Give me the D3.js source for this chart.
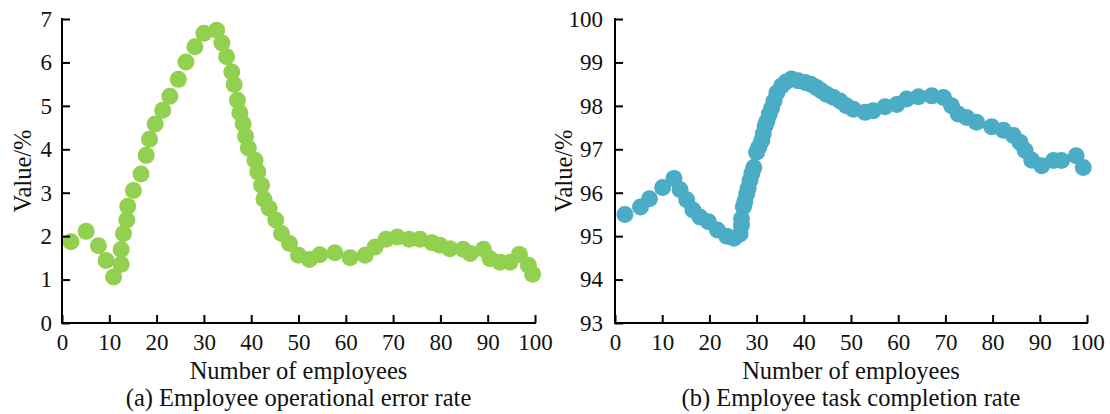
<!DOCTYPE html>
<html>
<head>
<meta charset="utf-8">
<script src="https://cdn.jsdelivr.net/npm/d3@7"></script>
<style>
  html, body { margin: 0; padding: 0; background: #fff; }
  svg { display: block; }
</style>
</head>
<body>
<svg id="chart" width="1110" height="414"></svg>
<script>
// Panel (a): employee operational error rate (%)
const errorX = [1.9, 5.1, 7.7, 9.3, 10.9, 12.5, 12.5, 13.0, 13.7, 13.9, 15.1, 16.7, 17.8, 18.5, 19.7,
  21.3, 22.8, 24.6, 26.2, 28.1, 30.0, 32.7, 33.8, 34.8, 35.9, 36.4, 37.1, 37.6, 38.3, 38.8, 39.4,
  40.8, 41.4, 42.2, 42.7, 43.8, 45.2, 46.4, 48.1, 50.0, 52.3, 54.5, 57.7, 60.9, 64.1, 66.2, 68.5,
  70.9, 73.4, 75.7, 78.2, 79.9, 82.0, 84.8, 86.3, 89.1, 90.5, 92.6, 94.7, 96.7, 98.6, 99.5];
const errorValues = [1.87, 2.11, 1.78, 1.44, 1.06, 1.35, 1.69, 2.06, 2.37, 2.69, 3.05, 3.43, 3.86, 4.23, 4.58,
  4.90, 5.22, 5.61, 6.01, 6.36, 6.67, 6.74, 6.45, 6.13, 5.78, 5.49, 5.13, 4.84, 4.59, 4.30, 4.03,
  3.75, 3.48, 3.17, 2.85, 2.64, 2.37, 2.06, 1.83, 1.56, 1.46, 1.57, 1.62, 1.50, 1.56, 1.75, 1.93,
  1.98, 1.93, 1.93, 1.85, 1.79, 1.71, 1.70, 1.60, 1.70, 1.48, 1.40, 1.40, 1.58, 1.33, 1.12];
const errorTicks = [0, 1, 2, 3, 4, 5, 6, 7];

// Panel (b): employee task completion rate (%)
const completionX = [2.1, 5.4, 7.3, 10.1, 12.5, 13.8, 15.2, 16.5, 18.0, 19.8, 21.7, 23.7, 25.2,
  26.5, 26.8, 26.8, 27.2, 27.5, 27.9, 28.2, 28.6, 29.0, 29.4, 30.0, 30.5, 31.1, 31.4, 31.8, 32.2,
  32.7, 33.2, 33.7, 34.3, 35.3, 36.2, 37.4, 38.8, 40.3, 41.5, 42.7, 43.7, 44.8, 46.2, 47.7, 49.0,
  50.5, 53.0, 54.7, 57.2, 59.7, 61.8, 64.3, 67.1, 69.6, 71.3, 72.7, 74.5, 76.6, 79.8, 82.3, 84.4,
  85.8, 86.9, 88.3, 90.4, 92.9, 94.6, 97.7, 99.2];
const completionValues = [95.50, 95.67, 95.86, 96.12, 96.33, 96.07, 95.84, 95.60, 95.44, 95.33, 95.14, 95.00, 94.95,
  95.05, 95.25, 95.40, 95.67, 95.80, 95.97, 96.10, 96.28, 96.45, 96.58, 96.93, 97.05, 97.20, 97.35, 97.54, 97.65,
  97.81, 97.95, 98.11, 98.30, 98.46, 98.55, 98.62, 98.58, 98.54, 98.50, 98.42, 98.35, 98.27, 98.20, 98.11, 98.00,
  97.92, 97.85, 97.89, 97.98, 98.03, 98.16, 98.21, 98.23, 98.19, 98.00, 97.81, 97.73, 97.62, 97.52, 97.44, 97.32,
  97.16, 96.97, 96.75, 96.62, 96.74, 96.74, 96.85, 96.58];
const completionTicks = [93, 94, 95, 96, 97, 98, 99, 100];

const xTicks = [0, 10, 20, 30, 40, 50, 60, 70, 80, 90, 100];

const FONT = '"Liberation Serif", "Times New Roman", serif';
const svg = d3.select("#chart");

const panels = [
  {
    xs: errorX, ys: errorValues, yTicks: errorTicks, domain: [0, 7],
    left: 62, right: 535, color: "#92D050", labelPad: 10, yTitleX: 31,
    caption: "(a) Employee operational error rate"
  },
  {
    xs: completionX, ys: completionValues, yTicks: completionTicks, domain: [93, 100],
    left: 615, right: 1087, color: "#4BACC6", labelPad: 12, yTitleX: 572,
    caption: "(b) Employee task completion rate"
  }
];

const plotTop = 19, plotBottom = 323;

function label(g, x, y, str) {
  return g.append("text")
    .attr("x", x).attr("y", y)
    .attr("text-anchor", "middle")
    .style("font-family", FONT)
    .style("font-size", "24.5px")
    .style("fill", "#111")
    .text(str);
}

panels.forEach(p => {
  const x = d3.scaleLinear().domain([0, 100]).range([p.left, p.right]);
  const y = d3.scaleLinear().domain(p.domain).range([plotBottom, plotTop]);
  const g = svg.append("g");

  // data markers
  g.append("g")
    .selectAll("circle")
    .data(p.xs.map((v, i) => [v, p.ys[i]]))
    .join("circle")
    .attr("cx", d => x(d[0]))
    .attr("cy", d => y(d[1]))
    .attr("r", 8.5)
    .attr("fill", p.color);

  // x axis with inward ticks
  const xa = g.append("g")
    .attr("transform", `translate(0,${plotBottom})`)
    .call(d3.axisBottom(x).tickValues(xTicks).tickFormat(d3.format("d"))
      .tickSizeInner(-8).tickSizeOuter(0).tickPadding(11));
  // y axis with inward ticks
  const ya = g.append("g")
    .attr("transform", `translate(${p.left},0)`)
    .call(d3.axisLeft(y).tickValues(p.yTicks).tickFormat(d3.format("d"))
      .tickSizeInner(-8).tickSizeOuter(0).tickPadding(p.labelPad));

  [xa, ya].forEach(a => {
    a.select(".domain").attr("stroke", "#000").attr("stroke-width", 2);
    a.selectAll(".tick line").attr("stroke", "#000").attr("stroke-width", 2);
    a.selectAll(".tick text")
      .style("font-family", FONT)
      .style("font-size", "23px")
      .style("fill", "#111");
  });
  // extend axis lines so they meet cleanly at the corner
  xa.select(".domain").attr("d", `M${p.left - 1},0H${p.right + 1}`);
  ya.select(".domain").attr("d", `M0,${plotTop - 1}V${plotBottom + 1}`);

  const cx = (p.left + p.right) / 2;
  label(g, cx, 379, "Number of employees");
  label(g, cx, 406, p.caption);
  label(g, 0, 0, "Value/%")
    .attr("transform", `translate(${p.yTitleX},${(plotTop + plotBottom) / 2}) rotate(-90)`);
});
</script>
</body>
</html>
